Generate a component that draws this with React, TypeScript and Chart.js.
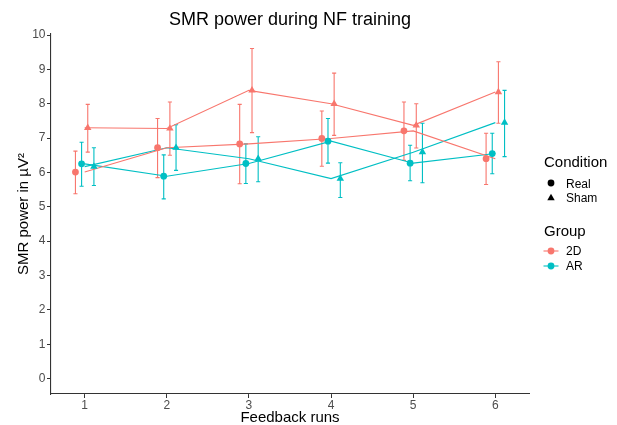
import React, { useEffect, useRef } from 'react';
import { Chart, registerables } from 'chart.js';

Chart.register(...registerables);

// ---- data ----
const runs = [1, 2, 3, 4, 5, 6];
const xTickValues = [1, 2, 3, 4, 5, 6];
const yTickValues = [0, 1, 2, 3, 4, 5, 6, 7, 8, 9, 10];

const mean2DReal = [6.01, 6.72, 6.83, 6.99, 7.21, 6.4];
const lo2DReal = [5.38, 5.85, 5.67, 6.18, 6.35, 5.65];
const hi2DReal = [6.62, 7.57, 7.98, 7.79, 8.05, 7.14];

const meanARReal = [6.25, 5.89, 6.26, 6.91, 6.27, 6.55];
const loARReal = [5.6, 5.23, 5.68, 6.27, 5.76, 5.96];
const hiARReal = [6.88, 6.51, 6.83, 7.57, 6.79, 7.14];

const mean2DSham = [7.3, 7.28, 8.39, 8.0, 7.37, 8.34];
const lo2DSham = [6.59, 6.5, 7.16, 7.08, 6.71, 7.43];
const hi2DSham = [7.98, 8.05, 9.61, 8.89, 8.0, 9.22];

const meanARSham = [6.17, 6.72, 6.4, 5.82, 6.59, 7.45];
const loARSham = [5.62, 6.06, 5.73, 5.27, 5.7, 6.46];
const hiARSham = [6.72, 7.39, 7.04, 6.28, 7.43, 8.39];

const groupLabels = ['2D', 'AR'];
const conditionLabels = ['Real', 'Sham'];
const titleText = 'SMR power during NF training';
const xTitle = 'Feedback runs';
const yTitle = 'SMR power in µV²';

// ---- styles ----
const COL_2D = '#F8766D';
const COL_AR = '#00BFC4';
const FONT = '"Liberation Sans", Arial, sans-serif';
const DODGE = 0.3; // position_dodge width
const CAP_HALF = 0.025; // errorbar half width (x units)

type Series = {
  group: string;
  condition: string;
  color: string;
  mean: number[];
  lo: number[];
  hi: number[];
  dodgeIndex: number;
};

const series: Series[] = [
  { group: '2D', condition: 'Real', color: COL_2D, mean: mean2DReal, lo: lo2DReal, hi: hi2DReal, dodgeIndex: 0 },
  { group: 'AR', condition: 'Real', color: COL_AR, mean: meanARReal, lo: loARReal, hi: hiARReal, dodgeIndex: 1 },
  { group: '2D', condition: 'Sham', color: COL_2D, mean: mean2DSham, lo: lo2DSham, hi: hi2DSham, dodgeIndex: 2 },
  { group: 'AR', condition: 'Sham', color: COL_AR, mean: meanARSham, lo: loARSham, hi: hiARSham, dodgeIndex: 3 },
];

const dodgeOffset = (i: number) => ((i + 0.5) / 4 - 0.5) * DODGE;

export default function App() {
  const ref = useRef<HTMLCanvasElement | null>(null);

  useEffect(() => {
    const canvas = ref.current;
    if (!canvas) return;

    const lineDatasets = series.map((s) => ({
      type: 'line' as const,
      label: `${s.group} ${s.condition} line`,
      data: runs.map((r, i) => ({ x: r, y: s.mean[i] })),
      borderColor: s.color,
      backgroundColor: s.color,
      borderWidth: 1.1,
      pointRadius: 0,
      showLine: true,
      order: 2,
    }));

    const pointDatasets = series.map((s) => ({
      type: 'line' as const,
      label: `${s.group} ${s.condition}`,
      data: runs.map((r, i) => ({ x: r + dodgeOffset(s.dodgeIndex), y: s.mean[i] })),
      borderColor: s.color,
      backgroundColor: s.color,
      showLine: false,
      pointStyle: s.condition === 'Real' ? 'circle' : 'triangle',
      pointRadius: s.condition === 'Real' ? 3.4 : 4.3,
      pointBorderWidth: 0,
      order: 1,
    }));

    const errorBarPlugin = {
      id: 'errorBars',
      beforeDatasetsDraw(chart: any) {
        const { ctx, scales } = chart;
        const xs = scales.x;
        const ys = scales.y;
        ctx.save();
        ctx.lineWidth = 1.1;
        series.forEach((s) => {
          ctx.strokeStyle = s.color;
          runs.forEach((r, i) => {
            const xv = r + dodgeOffset(s.dodgeIndex);
            const px = xs.getPixelForValue(xv);
            const pl = xs.getPixelForValue(xv - CAP_HALF);
            const pr = xs.getPixelForValue(xv + CAP_HALF);
            const pt = ys.getPixelForValue(s.hi[i]);
            const pb = ys.getPixelForValue(s.lo[i]);
            ctx.beginPath();
            ctx.moveTo(px, pt);
            ctx.lineTo(px, pb);
            ctx.moveTo(pl, pt);
            ctx.lineTo(pr, pt);
            ctx.moveTo(pl, pb);
            ctx.lineTo(pr, pb);
            ctx.stroke();
          });
        });
        ctx.restore();
      },
    };

    const textPlugin = {
      id: 'texts',
      afterDraw(chart: any) {
        const { ctx, chartArea } = chart;
        ctx.save();
        const cx = (chartArea.left + chartArea.right) / 2;
        const cy = (chartArea.top + chartArea.bottom) / 2;
        ctx.fillStyle = '#000';
        ctx.textBaseline = 'alphabetic';
        // title
        ctx.font = `18px ${FONT}`;
        ctx.textAlign = 'center';
        ctx.fillText(titleText, cx, 24.5);
        // x title
        ctx.font = `15px ${FONT}`;
        ctx.fillText(xTitle, cx, 422);
        // y title
        ctx.save();
        ctx.translate(28, cy);
        ctx.rotate(-Math.PI / 2);
        ctx.fillText(yTitle, 0, 0);
        ctx.restore();

        // legend
        const lx = 544;
        const kx = 551;
        const tx = 566;
        ctx.textAlign = 'left';
        ctx.font = `15px ${FONT}`;
        ctx.fillText('Condition', lx, 167);
        ctx.font = `12px ${FONT}`;
        ctx.fillStyle = '#000';
        // Real key (circle)
        ctx.beginPath();
        ctx.arc(kx, 183, 3.4, 0, Math.PI * 2);
        ctx.fill();
        ctx.fillText(conditionLabels[0], tx, 187.5);
        // Sham key (triangle)
        const r = 4.3;
        const ty = 198;
        ctx.beginPath();
        ctx.moveTo(kx, ty - r);
        ctx.lineTo(kx + r * Math.sin(Math.PI / 3), ty + r / 2);
        ctx.lineTo(kx - r * Math.sin(Math.PI / 3), ty + r / 2);
        ctx.closePath();
        ctx.fill();
        ctx.fillText(conditionLabels[1], tx, 202);

        ctx.font = `15px ${FONT}`;
        ctx.fillText('Group', lx, 235.5);
        ctx.font = `12px ${FONT}`;
        const gy = [251, 266];
        [COL_2D, COL_AR].forEach((c, i) => {
          ctx.strokeStyle = c;
          ctx.fillStyle = c;
          ctx.lineWidth = 1.1;
          ctx.beginPath();
          ctx.moveTo(kx - 7.5, gy[i]);
          ctx.lineTo(kx + 7.5, gy[i]);
          ctx.stroke();
          ctx.beginPath();
          ctx.arc(kx, gy[i], 3.4, 0, Math.PI * 2);
          ctx.fill();
          ctx.fillStyle = '#000';
          ctx.fillText(groupLabels[i], tx, gy[i] + 4.4);
        });
        ctx.restore();
      },
    };

    const chart = new Chart(canvas, {
      type: 'line',
      data: { datasets: [...lineDatasets, ...pointDatasets] as any },
      options: {
        animation: false,
        responsive: false,
        devicePixelRatio: 1,
        parsing: true,
        layout: { padding: { left: 0, right: 88, top: 34, bottom: 0 } },
        plugins: {
          legend: { display: false },
          title: { display: false },
          tooltip: { enabled: false },
        },
        scales: {
          x: {
            type: 'linear',
            min: 0.59,
            max: 6.41,
            afterBuildTicks: (scale: any) => {
              scale.ticks = xTickValues.map((v) => ({ value: v }));
            },
            afterFit: (scale: any) => {
              scale.height = 31;
            },
            grid: {
              drawOnChartArea: false,
              drawTicks: true,
              tickLength: 4,
              color: '#333333',
              lineWidth: 1,
            },
            border: { display: true, color: '#333333', width: 1.1 },
            ticks: {
              color: '#4D4D4D',
              font: { family: FONT, size: 12 },
              padding: 0,
              maxRotation: 0,
              callback: (v: any) => String(v),
            },
          },
          y: {
            type: 'linear',
            min: -0.45,
            max: 10.03,
            afterBuildTicks: (scale: any) => {
              scale.ticks = yTickValues.map((v) => ({ value: v }));
            },
            afterFit: (scale: any) => {
              scale.width = 51;
            },
            grid: {
              drawOnChartArea: false,
              drawTicks: true,
              tickLength: 4,
              color: '#333333',
              lineWidth: 1,
            },
            border: { display: true, color: '#333333', width: 1.1 },
            ticks: {
              color: '#4D4D4D',
              font: { family: FONT, size: 12 },
              padding: 1.5,
              callback: (v: any) => String(v),
            },
          },
        },
      },
      plugins: [errorBarPlugin, textPlugin],
    });

    return () => chart.destroy();
  }, []);

  return (
    <div style={{ position: 'fixed', left: 0, top: 0, width: 617, height: 425, background: '#fff' }}>
      <canvas ref={ref} width={617} height={425} style={{ width: 617, height: 425, display: 'block' }} />
    </div>
  );
}
